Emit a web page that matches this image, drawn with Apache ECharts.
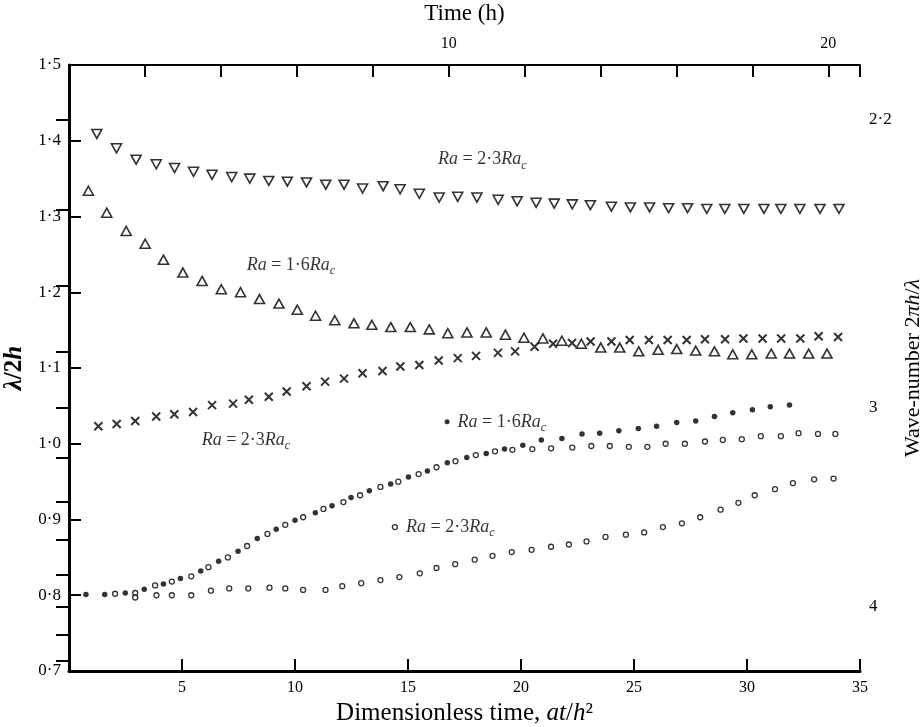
<!DOCTYPE html>
<html><head><meta charset="utf-8">
<script src="https://cdn.jsdelivr.net/npm/echarts@6/dist/echarts.min.js"></script>
<style>html,body{margin:0;padding:0;background:#fff}#c{width:922px;height:727px}</style>
</head><body><div id="c"></div>
<script>
// ---- data ----
// Ra = 2.3 Ra_c, down-pointing triangles
const downTriT = [1.23,2.1,2.97,3.86,4.67,5.51,6.33,7.2,8.0,8.84,9.66,10.51,11.36,12.17,12.99,13.9,14.65,15.5,16.38,17.2,18.05,18.99,19.83,20.67,21.47,22.27,23.07,24.0,24.84,25.69,26.53,27.37,28.22,29.02,29.86,30.75,31.5,32.34,33.23,34.07];
const downTriV = [1.409,1.390,1.375,1.369,1.364,1.359,1.355,1.352,1.350,1.347,1.346,1.345,1.342,1.342,1.337,1.340,1.336,1.330,1.325,1.326,1.325,1.322,1.320,1.318,1.317,1.316,1.315,1.313,1.312,1.312,1.311,1.311,1.310,1.310,1.310,1.310,1.310,1.310,1.310,1.310];
// Ra = 1.6 Ra_c, up-pointing triangles
const upTriT = [0.86,1.67,2.53,3.37,4.18,5.04,5.89,6.74,7.59,8.43,9.29,10.1,10.91,11.76,12.61,13.4,14.24,15.1,15.94,16.76,17.61,18.46,19.31,20.13,20.97,21.81,22.67,23.53,24.37,25.21,26.07,26.89,27.73,28.56,29.37,30.21,31.07,31.88,32.73,33.54];
const upTriV = [1.334,1.305,1.281,1.264,1.243,1.226,1.215,1.204,1.200,1.191,1.185,1.177,1.169,1.163,1.159,1.157,1.154,1.154,1.151,1.146,1.147,1.147,1.144,1.140,1.139,1.136,1.132,1.127,1.127,1.122,1.124,1.125,1.123,1.122,1.118,1.118,1.119,1.119,1.119,1.119];
// Ra = 2.3 Ra_c, crosses
const crossT = [1.3,2.11,2.93,3.86,4.66,5.49,6.33,7.26,7.96,8.84,9.63,10.51,11.33,12.17,12.99,13.87,14.66,15.5,16.36,17.2,18.01,18.98,19.74,20.6,21.42,22.26,23.08,24.0,24.81,25.66,26.49,27.33,28.14,29.03,29.84,30.69,31.51,32.36,33.17,34.03];
const crossV = [1.023,1.026,1.030,1.036,1.039,1.042,1.051,1.053,1.058,1.062,1.069,1.076,1.082,1.086,1.093,1.096,1.102,1.104,1.110,1.113,1.116,1.120,1.122,1.128,1.132,1.133,1.135,1.135,1.137,1.137,1.137,1.137,1.138,1.138,1.139,1.139,1.139,1.139,1.142,1.141];
// Ra = 1.6 Ra_c, filled dots
const filledDotT = [0.75,1.58,2.49,3.33,4.18,4.93,5.83,6.62,7.48,8.33,9.17,10.0,10.9,11.64,12.48,13.29,14.23,15.02,15.86,16.74,17.6,18.46,19.27,20.08,20.9,21.81,22.7,23.48,24.33,25.19,26.0,26.89,27.73,28.56,29.37,30.24,31.03,31.88];
const filledDotV = [0.801,0.801,0.803,0.808,0.815,0.822,0.832,0.845,0.858,0.875,0.887,0.899,0.909,0.918,0.929,0.938,0.947,0.956,0.964,0.975,0.982,0.987,0.993,0.998,1.005,1.007,1.013,1.014,1.017,1.020,1.023,1.028,1.030,1.036,1.041,1.045,1.049,1.051];
// open dots interleaved with the filled dots (upper curve)
const openUpperT = [2.04,2.93,3.81,4.55,5.41,6.17,7.03,7.88,8.78,9.57,10.36,11.26,12.14,12.88,13.78,14.57,15.47,16.26,17.1,18.0,18.85,19.62,20.5,21.33,22.27,23.11,23.93,24.77,25.59,26.4,27.25,28.14,28.93,29.77,30.61,31.5,32.28,33.14,33.91];
const openUpperV = [0.802,0.803,0.813,0.818,0.825,0.837,0.850,0.865,0.881,0.893,0.903,0.914,0.923,0.932,0.943,0.950,0.960,0.969,0.977,0.985,0.990,0.992,0.993,0.994,0.995,0.997,0.997,0.996,0.996,1.000,1.000,1.003,1.005,1.006,1.010,1.010,1.014,1.013,1.013];
// Ra = 2.3 Ra_c, open dots (lower curve)
const openLowerT = [2.93,3.87,4.55,5.41,6.28,7.09,7.93,8.87,9.57,10.36,11.35,12.09,12.93,13.78,14.62,15.52,16.26,17.09,17.95,18.74,19.59,20.47,21.33,22.12,22.9,23.74,24.64,25.45,26.28,27.12,27.93,28.83,29.62,30.34,31.24,32.03,32.97,33.83];
const openLowerV = [0.797,0.800,0.800,0.800,0.806,0.809,0.809,0.810,0.809,0.807,0.807,0.812,0.816,0.820,0.824,0.829,0.836,0.841,0.847,0.852,0.857,0.860,0.864,0.867,0.871,0.877,0.880,0.883,0.890,0.895,0.903,0.913,0.922,0.932,0.940,0.948,0.953,0.954];

// axes / ticks
const waveTicks = [2.2,2.4,2.6,2.8,3.0,3.2,3.4,3.6,3.8,4.0,4.2,4.4];
const waveLabels = [2.2,3,4];
const timeLabels = [10,20];
const dimlessPerHour = 1.68;

// annotation anchors (data coords) and texts
const annotations = [
  {t:16.33, v:1.375, text:'2·3', marker:null},
  {t:7.86,  v:1.236, text:'1·6', marker:null},
  {t:5.87,  v:1.005, text:'2·3', marker:null},
  {t:16.73, v:1.029, text:'1·6', marker:'filled'},
  {t:14.42, v:0.890, text:'2·3', marker:'open'}
];

// ---- chart ----
const FONT = "'Liberation Serif','Times New Roman',serif";
const zip = (a,b) => a.map((t,i)=>[t,b[i]]);
const dot = v => v.toFixed(1).replace('.', '\u00b7');
const black = '#000';
const richBase = {
  i:{fontStyle:'italic', fontFamily:FONT, fontSize:18, color:black, lineHeight:24},
  n:{fontFamily:FONT, fontSize:18, color:black, lineHeight:24},
  s:{fontStyle:'italic', fontFamily:FONT, fontSize:12, color:black, lineHeight:24, verticalAlign:'bottom'}
};
const nameRich = size => ({
  i:{fontStyle:'italic', fontFamily:FONT, fontSize:size, color:black},
  n:{fontFamily:FONT, fontSize:size, color:black}
});

const chart = echarts.init(document.getElementById('c'), null, {renderer:'canvas'});
const option = {
  animation:false,
  backgroundColor:'#fff',
  grid:{left:69, right:62, top:65, bottom:56, containLabel:false, outerBoundsMode:'none'},
  xAxis:[
    {type:'value', position:'bottom', min:0, max:35, interval:5,
     axisLine:{lineStyle:{color:black, width:3}},
     axisTick:{inside:true, length:12, lineStyle:{color:black, width:2}},
     axisLabel:{color:black, fontFamily:FONT, fontSize:16, margin:9, formatter:v=> v===0?'':String(v)},
     splitLine:{show:false},
     name:'{n|Dimensionless time, }{i|at}{n|/}{i|h}{n|²}', nameLocation:'middle', nameGap:29,
     nameTextStyle:{rich:nameRich(25)}},
    {type:'value', position:'top', min:0, max:35/dimlessPerHour, interval:2,
     axisLine:{lineStyle:{color:black, width:2}},
     axisTick:{inside:true, length:12, lineStyle:{color:black, width:2}},
     axisLabel:{color:black, fontFamily:FONT, fontSize:16, margin:13, formatter:v=> timeLabels.includes(v)?String(v):''},
     splitLine:{show:false},
     name:'Time (h)', nameLocation:'middle', nameGap:40,
     nameTextStyle:{color:black, fontFamily:FONT, fontSize:23}}
  ],
  yAxis:[
    {type:'value', position:'left', min:0.7, max:1.5, interval:0.1,
     axisLine:{lineStyle:{color:black, width:3}},
     axisTick:{inside:true, length:12, lineStyle:{color:black, width:2}},
     axisLabel:{color:black, fontFamily:FONT, fontSize:17, margin:8, formatter:v=>dot(v)},
     splitLine:{show:false},
     name:'{i|λ}{n|/2}{i|h}', nameLocation:'middle', nameGap:42, nameRotate:90,
     nameTextStyle:{rich:{i:{fontStyle:'italic', fontWeight:'bold', fontFamily:FONT, fontSize:25, color:black}, n:{fontWeight:'bold', fontFamily:FONT, fontSize:25, color:black}}}},
    {type:'value', position:'right', min:0.7, max:1.5,
     axisLine:{lineStyle:{color:black, width:2}},
     axisTick:{inside:true, length:13, lineStyle:{color:black, width:2}, customValues:waveTicks.map(k=>Math.PI/k)},
     axisLabel:{color:black, fontFamily:FONT, fontSize:17, margin:9,
       customValues:waveLabels.map(k=>Math.PI/k),
       formatter:v=>{const k=Math.round(Math.PI/v*10)/10; return Number.isInteger(k)?String(k):dot(k);}},
     splitLine:{show:false},
     name:'{n|Wave-number 2}{i|πh}{n|/}{i|λ}', nameLocation:'middle', nameGap:30, nameRotate:90,
     nameTextStyle:{rich:nameRich(22)}}
  ],
  series:[
    {name:'Ra=2.3Rac (down triangles)', type:'scatter', xAxisIndex:0, yAxisIndex:0,
     data:zip(downTriT, downTriV), symbol:'triangle', symbolRotate:180, symbolSize:[10,9],
     itemStyle:{color:'#fff', borderColor:black, borderWidth:1.6}},
    {name:'Ra=1.6Rac (up triangles)', type:'scatter',
     data:zip(upTriT, upTriV), symbol:'triangle', symbolSize:[10,9],
     itemStyle:{color:'#fff', borderColor:black, borderWidth:1.6}},
    {name:'Ra=2.3Rac (crosses)', type:'scatter',
     data:zip(crossT, crossV), symbol:'path://M0,0L10,10M10,0L0,10', symbolSize:8,
     itemStyle:{color:'none', borderColor:black, borderWidth:2}},
    {name:'Ra=1.6Rac (filled dots)', type:'scatter',
     data:zip(filledDotT, filledDotV), symbol:'circle', symbolSize:5.5,
     itemStyle:{color:black}},
    {name:'open dots (upper)', type:'scatter',
     data:zip(openUpperT, openUpperV), symbol:'circle', symbolSize:5,
     itemStyle:{color:'#fff', borderColor:black, borderWidth:1.3}},
    {name:'Ra=2.3Rac (open dots)', type:'scatter',
     data:zip(openLowerT, openLowerV), symbol:'circle', symbolSize:5,
     itemStyle:{color:'#fff', borderColor:black, borderWidth:1.3}},
    {name:'annotations', type:'scatter', silent:true, z:10,
     data:annotations.map(a=>({
       value:[a.t, a.v],
       symbol:'circle',
       symbolSize: a.marker? 5 : 0,
       itemStyle: a.marker==='filled' ? {color:black} : {color:'#fff', borderColor:black, borderWidth:1.3},
       label:{show:true, position:'right', distance: a.marker? 8 : 0,
         formatter:'{i|Ra}{n| = '+a.text+'}{i|Ra}{s|c}', rich:richBase}
     }))}
  ]
};
chart.setOption(option);
</script>
</body></html>
